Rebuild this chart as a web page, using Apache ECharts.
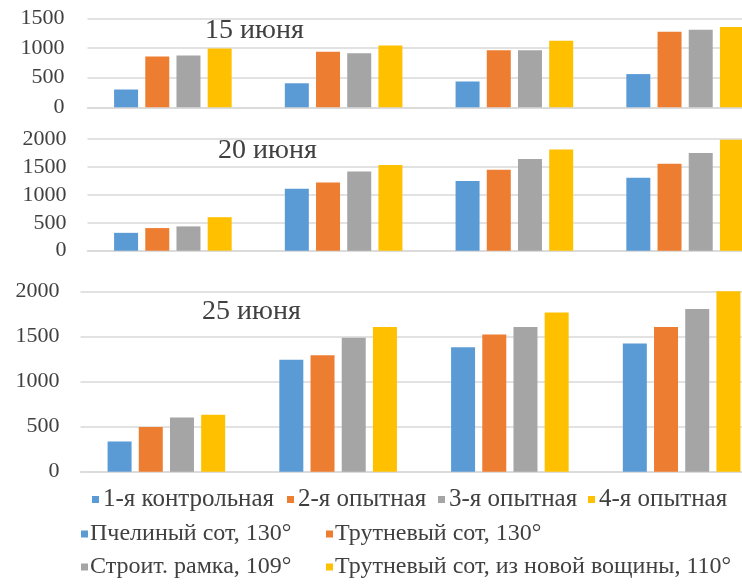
<!DOCTYPE html>
<html>
<head>
<meta charset="utf-8">
<script src="https://cdn.jsdelivr.net/npm/echarts@6/dist/echarts.min.js"></script>
<style>
    html, body { margin: 0; padding: 0; background: #fff; overflow: hidden; }
    /* wider than the window: the last bars run off the right edge like in the source */
    #chart { width: 800px; height: 586px; }
</style>
</head>
<body>
<div id="chart"></div>
<script>
// groups on the x axis (shown in the lower legend rows)
const categories = ['Пчелиный сот, 130°', 'Трутневый сот, 130°', 'Строит. рамка, 109°', 'Трутневый сот, из новой вощины, 110°'];
const seriesNames = ['1-я контрольная', '2-я опытная', '3-я опытная', '4-я опытная'];
const dateTitles = ['15 июня', '20 июня', '25 июня'];

// one row per series, one value per category
const june15 = [
    [300, 405, 435, 560],
    [855, 935, 960, 1275],
    [875, 910, 960, 1305],
    [990, 1040, 1120, 1355]
];
const june20 = [
    [320, 1110, 1250, 1305],
    [405, 1220, 1450, 1555],
    [435, 1420, 1640, 1750],
    [600, 1535, 1810, 1985]
];
const june25 = [
    [335, 1240, 1380, 1420],
    [495, 1290, 1520, 1605],
    [600, 1485, 1605, 1805],
    [630, 1605, 1765, 2000]
];
const yMax = [1500, 2000, 2000];
const yInterval = 500;

const colors = ['#5b9bd5', '#ed7d31', '#a5a5a5', '#ffc000'];
const font = 'Liberation Serif';
const textColor = '#404040';

const panels = [june15, june20, june25];
const grids = [
    {left: 87.5, top: 18.3, width: 683, height: 89},
    {left: 87.5, top: 139, width: 683, height: 111.7},
    {left: 80.5, top: 291.3, width: 687, height: 180.4}
];
const titlePos = [[205, 33], [218, 153], [202, 314]];
const labelMargin = [23, 21, 21];

const chart = echarts.init(document.getElementById('chart'));

let xAxes = [], yAxes = [], series = [], titles = [];
panels.forEach((rows, p) => {
    xAxes.push({
        type: 'category',
        gridIndex: p,
        data: categories,
        axisLine: {show: true, lineStyle: {color: '#d9d9d9', width: 1.5}},
        axisTick: {show: false},
        axisLabel: {show: false}
    });
    yAxes.push({
        type: 'value',
        gridIndex: p,
        min: 0,
        max: yMax[p],
        interval: yInterval,
        axisLine: {show: false},
        axisTick: {show: false},
        axisLabel: {
            fontFamily: font, fontSize: 22, color: textColor, margin: labelMargin[p],
            formatter: v => String(v)
        },
        splitLine: {lineStyle: {color: '#d9d9d9', width: 1.5}}
    });
    rows.forEach((vals, s) => {
        series.push({
            name: seriesNames[s],
            type: 'bar',
            xAxisIndex: p,
            yAxisIndex: p,
            data: vals,
            barWidth: 24,
            barGap: '30%',
            itemStyle: {color: colors[s]}
        });
    });
    titles.push({
        text: dateTitles[p],
        left: titlePos[p][0],
        top: titlePos[p][1] - 16,
        padding: 0,
        textStyle: {fontFamily: font, fontSize: 28, fontWeight: 'normal', color: textColor}
    });
});

// empty series so the group names can appear in the legend
categories.forEach((c, i) => {
    series.push({name: c, type: 'line', data: [], xAxisIndex: 0, yAxisIndex: 0, itemStyle: {color: colors[i]}});
});

function legendItem(name, left, y, size, pad) {
    return {
        data: [name],
        left: left,
        top: y - Math.round(size / 2),
        padding: 0,
        icon: 'rect',
        itemWidth: 7,
        itemHeight: 7,
        itemGap: 0,
        selectedMode: false,
        textStyle: {fontFamily: font, fontSize: size, color: textColor, padding: [0, 0, 0, pad]}
    };
}

const legends = [
    legendItem(seriesNames[0], 92, 500, 25, -1),
    legendItem(seriesNames[1], 287, 500, 25, -1),
    legendItem(seriesNames[2], 438, 500, 25, -1),
    legendItem(seriesNames[3], 588, 500, 25, -1),
    legendItem(categories[0], 81, 534, 24, -3),
    legendItem(categories[1], 326, 534, 24, -3),
    legendItem(categories[2], 81, 567, 24, -3),
    legendItem(categories[3], 326, 567, 24, -3)
];

chart.setOption({
    animation: false,
    backgroundColor: '#fff',
    title: titles,
    legend: legends,
    grid: grids,
    xAxis: xAxes,
    yAxis: yAxes,
    series: series
});
</script>
</body>
</html>
